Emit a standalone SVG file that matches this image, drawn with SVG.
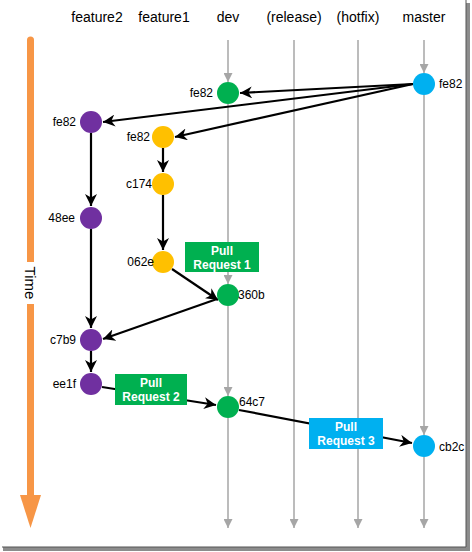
<svg xmlns="http://www.w3.org/2000/svg" width="472" height="552" viewBox="0 0 472 552">
<style>
.hdr{font-family:"Liberation Sans",Arial,sans-serif;font-size:14px;fill:#000;text-anchor:middle}
.lbl{font-family:"Liberation Sans",Arial,sans-serif;font-size:12px;fill:#000}
.pr{font-family:"Liberation Sans",Arial,sans-serif;font-size:12px;font-weight:bold;fill:#fff;text-anchor:middle}
.g{stroke:#A6A6A6;stroke-width:1.5;fill:none}
.k{stroke:#000;stroke-width:2.2;fill:none;marker-end:url(#ka)}
</style>
<defs>
<marker id="ga" viewBox="0 0 10 10" refX="10" refY="5" markerWidth="9" markerHeight="9" markerUnits="userSpaceOnUse" orient="auto"><path d="M0,0 L10,5 L0,10 z" fill="#A6A6A6"/></marker>
<marker id="ka" viewBox="0 0 10 10" refX="10" refY="5" markerWidth="12" markerHeight="12" markerUnits="userSpaceOnUse" orient="auto"><path d="M0,0 L10,5 L0,10 L3,5 z" fill="#000"/></marker>
</defs>
<rect x="0" y="0" width="472" height="552" fill="#fff"/>
<rect x="466" y="3" width="4" height="548" fill="#8c8c8c"/>
<rect x="3" y="547" width="467" height="4" fill="#8c8c8c"/>
<line x1="466" y1="0" x2="466" y2="547" stroke="#555" stroke-width="1"/>
<line x1="2" y1="547" x2="466" y2="547" stroke="#555" stroke-width="1"/>

<g id="headers">
<text class="hdr" x="97" y="22">feature2</text>
<text class="hdr" x="164" y="22">feature1</text>
<text class="hdr" x="228" y="22">dev</text>
<text class="hdr" x="294" y="22">(release)</text>
<text class="hdr" x="358" y="22">(hotfix)</text>
<text class="hdr" x="424" y="22">master</text>
</g>

<g id="time">
<line x1="30.5" y1="40" x2="30.5" y2="497" stroke="#F79646" stroke-width="7" stroke-linecap="round"/>
<polygon points="20,495 41,495 30.5,528" fill="#F79646"/>
<rect x="22" y="262" width="17" height="42" fill="#fff"/>
<text transform="translate(25,283) rotate(90)" font-family="'Liberation Sans',Arial,sans-serif" font-size="15" text-anchor="middle" fill="#000">Time</text>
</g>

<g id="connectors">
<line class="g" x1="228" y1="40" x2="228" y2="82" marker-end="url(#ga)"/>
<line class="g" x1="228" y1="104" x2="228" y2="284" marker-end="url(#ga)"/>
<line class="g" x1="228" y1="306" x2="228" y2="396" marker-end="url(#ga)"/>
<line class="g" x1="228" y1="418" x2="228" y2="528" marker-end="url(#ga)"/>
<line class="g" x1="294" y1="40" x2="294" y2="528" marker-end="url(#ga)"/>
<line class="g" x1="358" y1="40" x2="358" y2="528" marker-end="url(#ga)"/>
<line class="g" x1="424" y1="40" x2="424" y2="73" marker-end="url(#ga)"/>
<line class="g" x1="424" y1="95" x2="424" y2="435" marker-end="url(#ga)"/>
<line class="g" x1="424" y1="457" x2="424" y2="528" marker-end="url(#ga)"/>

<line class="k" x1="413" y1="84" x2="240" y2="93"/>
<line class="k" x1="413" y1="84" x2="103" y2="122"/>
<line class="k" x1="413" y1="84" x2="175" y2="137"/>
<line class="k" x1="163" y1="148" x2="163" y2="172"/>
<line class="k" x1="163" y1="195" x2="163" y2="250"/>
<line class="k" x1="91" y1="133" x2="91" y2="206"/>
<line class="k" x1="91" y1="229" x2="91" y2="328"/>
<line class="k" x1="172" y1="269" x2="218" y2="300"/>
<line class="k" x1="217" y1="299" x2="103" y2="339"/>
<line class="k" x1="91" y1="351" x2="91" y2="372"/>
<line class="k" x1="102" y1="387" x2="216" y2="405"/>
<line class="k" x1="239" y1="410" x2="412" y2="443"/>
</g>

<g id="pr1"><rect x="185" y="242" width="74" height="30" fill="#00B050"/><text class="pr" x="222" y="255">Pull</text><text class="pr" x="222" y="269">Request 1</text></g>
<g id="pr2"><rect x="115" y="374" width="72" height="31" fill="#00B050"/><text class="pr" x="151" y="387">Pull</text><text class="pr" x="151" y="401">Request 2</text></g>
<g id="pr3"><rect x="309" y="418" width="74" height="31" fill="#00B0F0"/><text class="pr" x="346" y="431">Pull</text><text class="pr" x="346" y="445">Request 3</text></g>

<g id="n-dev-fe82"><circle cx="228" cy="93" r="11" fill="#00B050"/><text class="lbl" x="213" y="97" text-anchor="end">fe82</text></g>
<g id="n-master-fe82"><circle cx="424" cy="84" r="11" fill="#00B0F0"/><text class="lbl" x="439" y="88">fe82</text></g>
<g id="n-f2-fe82"><circle cx="91" cy="122" r="11" fill="#7030A0"/><text class="lbl" x="76" y="126" text-anchor="end">fe82</text></g>
<g id="n-f1-fe82"><circle cx="163" cy="137" r="11" fill="#FFC000"/><text class="lbl" x="150" y="141" text-anchor="end">fe82</text></g>
<g id="n-c174"><circle cx="163" cy="184" r="11" fill="#FFC000"/><text class="lbl" x="152" y="188" text-anchor="end">c174</text></g>
<g id="n-48ee"><circle cx="91" cy="218" r="11" fill="#7030A0"/><text class="lbl" x="75" y="222" text-anchor="end">48ee</text></g>
<g id="n-062e"><circle cx="163" cy="262" r="11" fill="#FFC000"/><text class="lbl" x="154" y="266" text-anchor="end">062e</text></g>
<g id="n-360b"><circle cx="228" cy="295" r="11" fill="#00B050"/><text class="lbl" x="238" y="299">360b</text></g>
<g id="n-c7b9"><circle cx="91" cy="340" r="11" fill="#7030A0"/><text class="lbl" x="76" y="344" text-anchor="end">c7b9</text></g>
<g id="n-ee1f"><circle cx="91" cy="384" r="11" fill="#7030A0"/><text class="lbl" x="76" y="388" text-anchor="end">ee1f</text></g>
<g id="n-64c7"><circle cx="228" cy="407" r="11" fill="#00B050"/><text class="lbl" x="239" y="406">64c7</text></g>
<g id="n-cb2c"><circle cx="424" cy="446" r="11" fill="#00B0F0"/><text class="lbl" x="439" y="451">cb2c</text></g>
</svg>
